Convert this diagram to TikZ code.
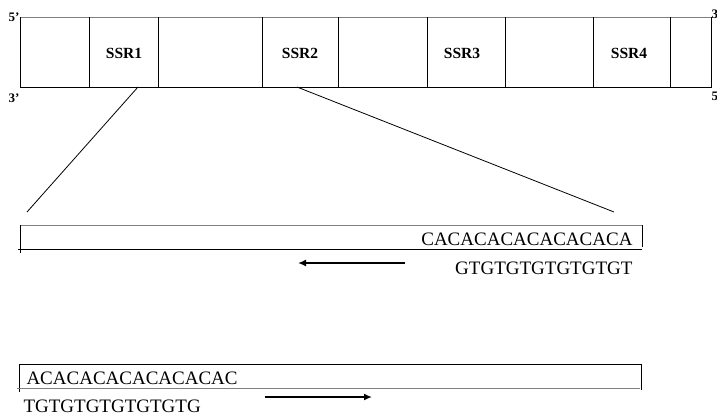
\documentclass[tikz,border=0pt]{standalone}
\usepackage{fontspec}
\setmainfont{Liberation Serif}
\usetikzlibrary{arrows.meta}
\tikzset{
  seq/.style={inner sep=0pt,font=\fontsize{19}{22}\selectfont},
  ssr/.style={inner sep=0pt,font=\fontsize{15.5}{18}\selectfont\bfseries},
  strand/.style={inner sep=0pt,font=\fontsize{13}{15}\selectfont\bfseries},
  primer/.style={line width=2.4pt,-{Latex[length=8pt,width=7pt]}}
}
\begin{document}
\begin{tikzpicture}[x=1pt,y=-1pt,line width=1pt]
  \useasboundingbox (0,0) rectangle (717,416);
  % genome strip
  \draw[gray] (20,17) -- (711,17);
  \draw (20,17) -- (20,87) -- (711,87) -- (711,17);
  \foreach \x in {89,158,262,338,427,505,593,670}
    \draw (\x,17) -- (\x,87);
  \node[ssr] (ssr1) at (124,53) {SSR1};
  \node[ssr] (ssr2) at (300,53) {SSR2};
  \node[ssr] (ssr3) at (462,53) {SSR3};
  \node[ssr] (ssr4) at (629,53) {SSR4};
  \node[strand,anchor=base east] (endtl) at (20,21) {5’};
  \node[strand,anchor=base east] (endbl) at (20,102) {3’};
  \node[strand,anchor=base west] (endtr) at (711,18) {3’};
  \node[strand,anchor=base west] (endbr) at (711,100) {5’};
  % zoom lines
  \coordinate (foota) at (138,87);
  \coordinate (footb) at (297,87);
  \coordinate (zooma) at (27,212);
  \coordinate (zoomb) at (614,212);
  \draw[line width=0.8pt] (foota) -- (zooma);
  \draw[line width=0.8pt] (footb) -- (zoomb);
  % upper duplex
  \draw[gray] (20,225) -- (642,225);
  \draw (20,225) -- (20,253);
  \draw (642,225) -- (642,247);
  \draw (18,249) -- (642,249);
  \node[seq,anchor=base east] (topseq) at (633,245) {CACACACACACACACA};
  \node[seq,anchor=base east] (botseq) at (633,274) {GTGTGTGTGTGTGT};
  \coordinate (revstart) at (405,263);
  \coordinate (revend) at (298,263);
  \draw[primer] (revstart) -- (revend);
  % lower duplex
  \draw (19,364) -- (641,364);
  \draw (19,364) -- (19,392);
  \draw (641,364) -- (641,390);
  \draw[gray] (17,388) -- (640,388);
  \node[seq,anchor=base west] (fwdtop) at (26,384) {ACACACACACACACAC};
  \node[seq,anchor=base west] (fwdbot) at (23,412) {TGTGTGTGTGTGTG};
  \coordinate (fwdstart) at (265,397);
  \coordinate (fwdend) at (372,397);
  \draw[primer] (fwdstart) -- (fwdend);
\end{tikzpicture}
\end{document}
